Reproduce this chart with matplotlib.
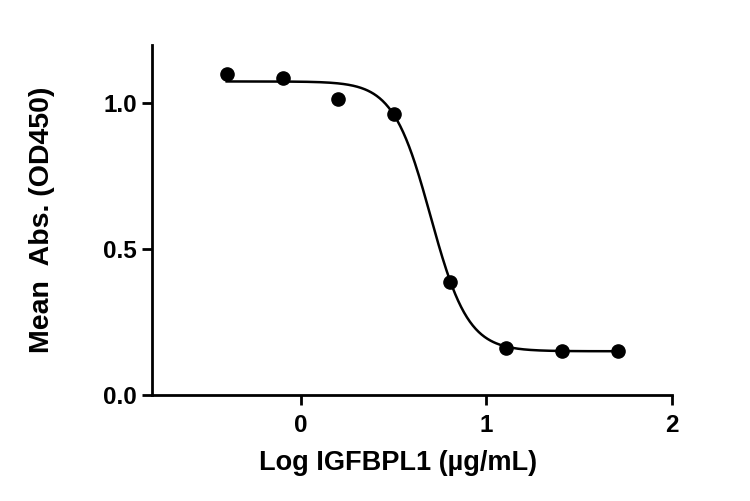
import numpy as np
import matplotlib.pyplot as plt

# ── data ───────────────────────────────────────────────────────────────────
log_conc = [-0.398, -0.097, 0.204, 0.505, 0.806, 1.107, 1.408, 1.709]
mean_abs = [1.100, 1.086, 1.016, 0.962, 0.386, 0.162, 0.152, 0.152]

# 4PL fit parameters estimated from the drawn curve
TOP, BOTTOM = 1.075, 0.150
LOG_EC50, HILL = 0.700, 4.3

plt.rcParams['font.family'] = ['Liberation Sans', 'DejaVu Sans']
plt.rcParams['font.weight'] = 'bold'

fig = plt.figure(figsize=(7.5, 5.01), dpi=100)
ax = fig.add_axes([0.2027, 0.2116, 0.6933, 0.6986])

xs = np.linspace(min(log_conc), max(log_conc), 400)
fit = BOTTOM + (TOP - BOTTOM) / (1 + 10 ** ((xs - LOG_EC50) * HILL))
ax.plot(xs, fit, color='black', lw=1.8)
ax.plot(log_conc, mean_abs, 'o', color='black', ms=9.5)

ax.set_xlim(-0.8, 2.0)
ax.set_ylim(0, 1.2)
ax.set_xticks([0, 1, 2])
ax.set_yticks([0.0, 0.5, 1.0])
ax.set_yticklabels(['0.0', '0.5', '1.0'])

for side in ('top', 'right'):
    ax.spines[side].set_visible(False)
for side in ('left', 'bottom'):
    ax.spines[side].set_linewidth(2)
ax.tick_params(width=2, length=7, labelsize=17.5)
ax.tick_params(axis='x', pad=7)
ax.tick_params(axis='y', pad=4)

ax.set_xlabel('Log IGFBPL1 (µg/mL)', fontsize=19.5, fontweight='bold', labelpad=9)
ax.xaxis.label.set_x(0.473)
ax.set_ylabel('Mean  Abs. (OD450)', fontsize=20.5, fontweight='bold')
ax.yaxis.set_label_coords(-0.187, 0.5)

fig.savefig('out.png', dpi=100)
